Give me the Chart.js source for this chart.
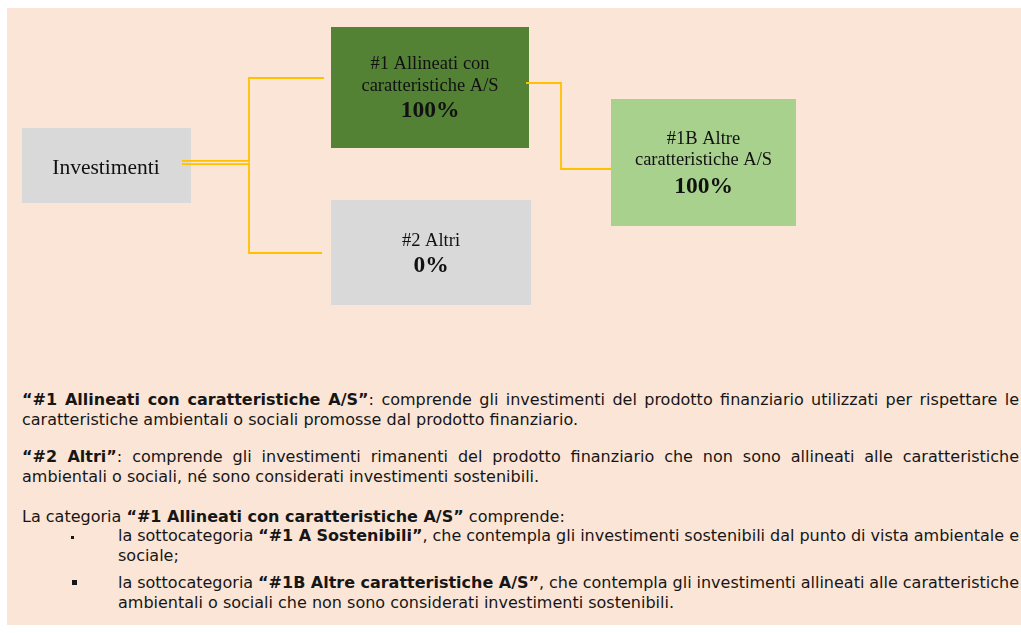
<!DOCTYPE html>
<html><head><meta charset="utf-8">
<script src="https://cdn.jsdelivr.net/npm/chart.js@4.4.1/dist/chart.umd.min.js"></script>
<style>
html,body{margin:0;padding:0;background:#fff;width:1021px;height:633px;overflow:hidden;}
#bg{position:absolute;left:7px;top:8px;width:1014px;height:617px;background:#FBE5D6;}
#c{position:absolute;left:0;top:0;}
.t{position:absolute;font-family:"DejaVu Sans",Verdana,sans-serif;font-size:16px;line-height:19.5px;color:#161616;}
.ln{display:block;white-space:nowrap;}
.sq{position:absolute;background:#161616;}
</style></head><body>
<div id="bg"></div>
<canvas id="c" width="1021" height="370"></canvas>

<div class="t" style="left:22px;top:390.4px;width:997px">
 <div class="ln j"><span><b>“#1 Allineati con caratteristiche A/S”</b>: comprende gli investimenti del prodotto finanziario utilizzati per rispettare le</span></div>
 <div class="ln">caratteristiche ambientali o sociali promosse dal prodotto finanziario.</div>
</div>
<div class="t" style="left:22px;top:447px;width:997px">
 <div class="ln j"><span><b>“#2 Altri”</b>: comprende gli investimenti rimanenti del prodotto finanziario che non sono allineati alle caratteristiche</span></div>
 <div class="ln">ambientali o sociali, né sono considerati investimenti sostenibili.</div>
</div>
<div class="t" style="left:22px;top:507px;width:997px">
 <div class="ln">La categoria <b>“#1 Allineati con caratteristiche A/S”</b> comprende:</div>
</div>
<div class="sq" style="left:71px;top:536px;width:3px;height:3px"></div>
<div class="t" style="left:118px;top:526.4px;width:901px">
 <div class="ln j"><span>la sottocategoria <b>“#1 A Sostenibili”</b>, che contempla gli investimenti sostenibili dal punto di vista ambientale e</span></div>
 <div class="ln">sociale;</div>
</div>
<div class="sq" style="left:72px;top:579.5px;width:5px;height:5px"></div>
<div class="t" style="left:118px;top:573px;width:901px">
 <div class="ln j"><span>la sottocategoria <b>“#1B Altre caratteristiche A/S”</b>, che contempla gli investimenti allineati alle caratteristiche</span></div>
 <div class="ln">ambientali o sociali che non sono considerati investimenti sostenibili.</div>
</div>

<script>
// ---- data ----
const nodeNames = ['Investimenti', '#1 Allineati con caratteristiche A/S', '#2 Altri', '#1B Altre caratteristiche A/S'];
const nodeLines = [['Investimenti'], ['#1 Allineati con', 'caratteristiche A/S'], ['#2 Altri'], ['#1B Altre', 'caratteristiche A/S']];
const nodeShares = [null, 100, 0, 100];
const linkFrom = [0, 0, 1];
const linkTo = [1, 2, 3];

// ---- layout (positions / styles only) ----
const boxLayout = [
  {x0: 22, x1: 191, y0: 128, y1: 203, fill: '#D9D9D9', cx: 106, lineBase: [174], lineSize: 21.5, pctBase: null},
  {x0: 331, x1: 529, y0: 27, y1: 148, fill: '#548235', cx: 430, lineBase: [69, 91], lineSize: 18.5, pctBase: 117},
  {x0: 331, x1: 531, y0: 200, y1: 305, fill: '#D9D9D9', cx: 431, lineBase: [246], lineSize: 18.5, pctBase: 272},
  {x0: 611, x1: 796, y0: 99, y1: 226, fill: '#A9D18E', cx: 703.5, lineBase: [144, 165], lineSize: 18.5, pctBase: 193}
];
const linkPaths = [
  [[249, 162.5], [249, 78], [324, 78]],
  [[249, 162.5], [249, 253], [322, 253]],
  [[526, 83], [561, 83], [561, 169], [611, 169]]
];
const trunk = {x0: 182, x1: 249, ys: [160.8, 164.2]};
const linkColor = '#FFC000';

// justify single lines by word spacing
document.querySelectorAll('.j').forEach(el => {
  const sp = el.querySelector('span');
  const w = sp.getBoundingClientRect().width;
  const n = (sp.textContent.match(/ /g) || []).length;
  el.style.wordSpacing = ((el.clientWidth - w) / n) + 'px';
});

const diagramPlugin = {
  id: 'diagram',
  afterDraw(chart) {
    const ctx = chart.ctx, sx = chart.scales.x, sy = chart.scales.y;
    const X = v => sx.getPixelForValue(v), Y = v => sy.getPixelForValue(v);
    ctx.save();
    nodeNames.forEach((name, i) => {
      const b = boxLayout[i];
      ctx.fillStyle = b.fill;
      ctx.fillRect(X(b.x0), Y(b.y0), X(b.x1) - X(b.x0), Y(b.y1) - Y(b.y0));
    });
    ctx.strokeStyle = linkColor;
    ctx.lineWidth = 1.8;
    trunk.ys.forEach(y => {
      ctx.beginPath(); ctx.moveTo(X(trunk.x0), Y(y)); ctx.lineTo(X(trunk.x1), Y(y)); ctx.stroke();
    });
    linkFrom.forEach((f, k) => {
      const p = linkPaths[k];
      ctx.beginPath();
      ctx.moveTo(X(p[0][0]), Y(p[0][1]));
      for (let j = 1; j < p.length; j++) ctx.lineTo(X(p[j][0]), Y(p[j][1]));
      ctx.stroke();
    });
    ctx.fillStyle = '#111';
    ctx.textAlign = 'center';
    ctx.textBaseline = 'alphabetic';
    nodeLines.forEach((lines, i) => {
      const b = boxLayout[i];
      ctx.font = b.lineSize + 'px "Liberation Serif", "Times New Roman", serif';
      lines.forEach((t, j) => ctx.fillText(t, X(b.cx), Y(b.lineBase[j])));
      if (nodeShares[i] !== null) {
        ctx.font = 'bold 23.5px "Liberation Serif", "Times New Roman", serif';
        ctx.fillText(nodeShares[i] + '%', X(b.cx), Y(b.pctBase));
      }
    });
    ctx.restore();
  }
};

new Chart(document.getElementById('c'), {
  type: 'scatter',
  data: {datasets: [{label: 'nodes', data: [], pointRadius: 0}]},
  options: {
    responsive: false,
    animation: false,
    devicePixelRatio: 1,
    layout: {padding: 0},
    plugins: {legend: {display: false}, tooltip: {enabled: false}},
    scales: {
      x: {type: 'linear', min: 0, max: 1021, display: false},
      y: {type: 'linear', min: 0, max: 370, reverse: true, display: false}
    }
  },
  plugins: [diagramPlugin]
});
</script>
</body></html>
